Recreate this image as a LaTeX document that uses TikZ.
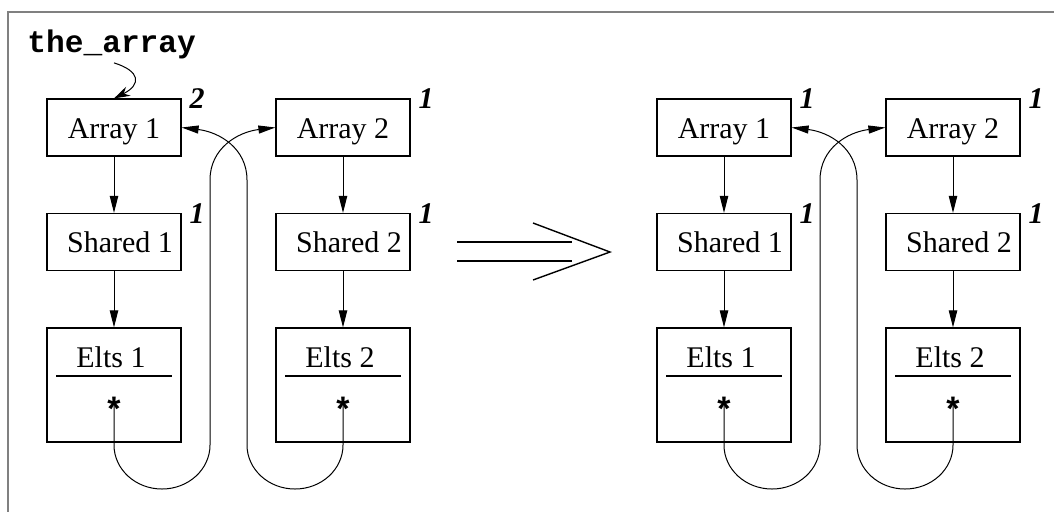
\documentclass[tikz,border=0pt]{standalone}
\usepackage{fontspec}
\setmainfont{Liberation Serif}
\newfontfamily\codefont{Liberation Mono}
\newfontfamily\starfont{Liberation Sans}
\usetikzlibrary{arrows.meta}

\tikzset{
  box/.style={draw, line width=0.6pt, minimum width=67pt, minimum height=28.5pt,
    inner sep=0pt, font=\fontsize{15}{17}\selectfont, text height=10.5pt, text depth=0pt},
  eltsbox/.style={draw, line width=0.6pt, minimum width=67pt, minimum height=57pt, inner sep=0pt},
  eltlabel/.style={anchor=base, inner sep=0pt, font=\fontsize{15}{17}\selectfont},
  starmark/.style={anchor=base, inner sep=0pt, font=\starfont\bfseries\fontsize{17}{19}\selectfont},
  refcount/.style={inner sep=0pt, font=\bfseries\itshape\fontsize{15}{17}\selectfont},
  divider/.style={line width=0.6pt},
  down/.style={line width=0.5pt, -{Triangle[length=8.5pt,width=4.2pt]}},
  link/.style={line width=0.5pt, -{Triangle[length=8.5pt,width=4pt]}},
  pointer/.style={line width=0.5pt, -{Stealth[length=8pt,width=5pt]}},
  frameline/.style={gray, line width=0.75pt},
  implies/.style={line width=0.7pt},
}

% one heap snapshot: two arrays, their shared blocks and element blocks
\newcommand\heappanel[3]{%
  \begin{scope}[xshift=#2]
    \node[box] (#1-a1) at (114,127.5) {Array 1};
    \node[box] (#1-a2) at (343,127.5) {Array 2};
    \node[box] (#1-s1) at (114,242) {\hspace*{6pt}Shared 1};
    \node[box] (#1-s2) at (343,242) {\hspace*{6pt}Shared 2};
    \node[eltsbox] (#1-e1) at (114,385) {};
    \node[eltsbox] (#1-e2) at (343,385) {};
    \node[eltlabel] (#1-t1) at (111,367) {Elts 1};
    \node[eltlabel] (#1-t2) at (340,367) {Elts 2};
    \draw[divider] ([xshift=5pt,yshift=4.5pt]#1-e1.west) -- ([xshift=-5pt,yshift=4.5pt]#1-e1.east);
    \draw[divider] ([xshift=5pt,yshift=4.5pt]#1-e2.west) -- ([xshift=-5pt,yshift=4.5pt]#1-e2.east);
    \node[starmark] (#1-st1) at (114,420) {*};
    \node[starmark] (#1-st2) at (343,420) {*};
    \coordinate (#1-p1) at (114,403);
    \coordinate (#1-p2) at (343,403);
    % reference counts
    \node[refcount] (#1-c1) at (197,99) {#3};
    \node[refcount] (#1-c2) at (426,99) {1};
    \node[refcount] (#1-c3) at (197,214) {1};
    \node[refcount] (#1-c4) at (426,214) {1};
    % ownership chain
    \draw[down] (#1-a1) -- (#1-s1);
    \draw[down] (#1-s1) -- (#1-e1);
    \draw[down] (#1-a2) -- (#1-s2);
    \draw[down] (#1-s2) -- (#1-e2);
    % element pointers looping back to the arrays
    \draw[link] (#1-p1) -- (114,445)
      .. controls (114,469.3) and (135.5,489) .. (162,489)
      .. controls (188.5,489) and (210,469.3) .. (210,445)
      -- (210,180) .. controls (210,148) and (238,132) .. (#1-a2.west);
    \draw[link] (#1-p2) -- (343,445)
      .. controls (343,469.3) and (321.5,489) .. (295,489)
      .. controls (268.5,489) and (247,469.3) .. (247,445)
      -- (247,180) .. controls (247,148) and (219,132) .. (#1-a1.east);
  \end{scope}}

\begin{document}
\begin{tikzpicture}[x=0.5pt, y=-0.5pt]
  \useasboundingbox (0,0) rectangle (1054,511);
  \draw[frameline] (1070,12) -- (8,12) -- (8,530);

  \heappanel{L}{0pt}{2}
  \heappanel{R}{305pt}{1}

  % the variable pointing at the first array
  \node[anchor=base west, inner sep=0pt, font=\codefont\bfseries\fontsize{15.6}{17}\selectfont]
    (var) at (27,52) {the\_array};
  \draw[pointer] ([yshift=-2pt]var.south -| L-a1.north)
    .. controls +(26,8) and +(28,-14) .. (L-a1.north);

  % transition arrow
  \coordinate (i1) at (457,242);
  \coordinate (i2) at (572,242);
  \coordinate (i3) at (457,261);
  \coordinate (i4) at (572,261);
  \coordinate (ia) at (533,223);
  \coordinate (it) at (610,252);
  \coordinate (ib) at (533,280);
  \draw[implies] (i1) -- (i2);
  \draw[implies] (i3) -- (i4);
  \draw[implies] (ia) -- (it) -- (ib);
\end{tikzpicture}
\end{document}
